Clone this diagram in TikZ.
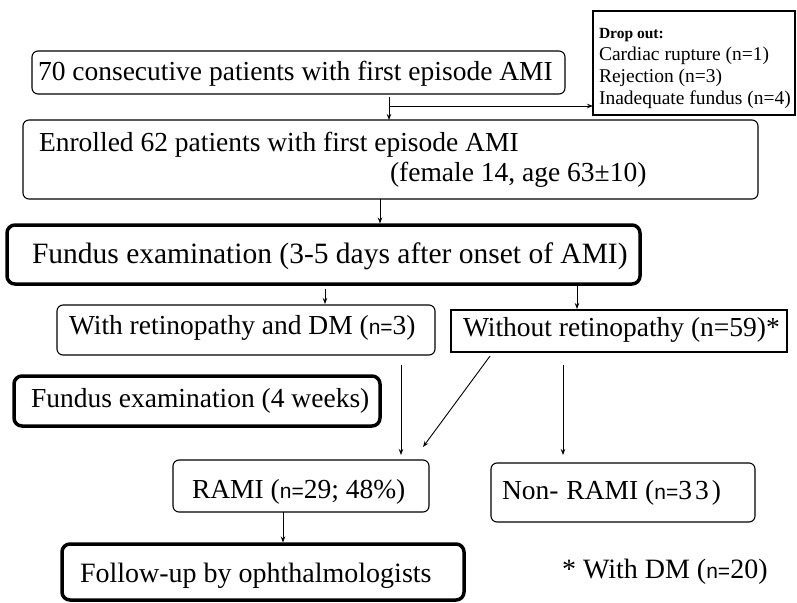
\documentclass[tikz,border=0pt]{standalone}
\usepackage{fontspec}
\setmainfont{Liberation Serif}
\setsansfont{Liberation Sans}
\usetikzlibrary{arrows.meta}
\newcommand{\nsm}{{\sffamily\fontsize{21}{21}\selectfont n=}}
\begin{document}
\begin{tikzpicture}[x=1pt,y=-1pt,
  thinbox/.style={draw, line width=1.1pt, rounded corners=6pt, inner sep=0pt, outer sep=0pt, anchor=north west},
  thickbox/.style={thinbox, line width=3.5pt, rounded corners=8pt},
  sqbox/.style={thinbox, rounded corners=0pt},
  txt/.style={anchor=base west, inner sep=0pt, outer sep=0pt, font=\fontsize{27.5}{33}\selectfont},
  droptxt/.style={txt, font=\fontsize{19.5}{22}\selectfont},
  arr/.style={draw, line width=0.9pt, -{Stealth[length=6pt,width=4.5pt]}}
]
\useasboundingbox (0,0) rectangle (797,602);

% boxes
\node[thinbox, minimum width=533pt, minimum height=43pt] (box1) at (32,51) {};
\node[sqbox, minimum width=202pt, minimum height=104pt] (drop) at (593,11) {};
\node[thinbox, minimum width=735pt, minimum height=79pt] (enr) at (23,120) {};
\node[thickbox, minimum width=633pt, minimum height=59pt] (fund1) at (7,225) {};
\node[thinbox, minimum width=378pt, minimum height=50pt] (with) at (57,305) {};
\node[sqbox, minimum width=336pt, minimum height=42pt] (without) at (451,310) {};
\node[thickbox, minimum width=366pt, minimum height=50pt] (fund2) at (14,376) {};
\node[thinbox, minimum width=256pt, minimum height=52pt] (rami) at (173,460) {};
\node[thinbox, minimum width=264pt, minimum height=59pt] (nonrami) at (491,463) {};
\node[thickbox, minimum width=402pt, minimum height=56pt] (follow) at (62,544) {};

% texts
\node[txt] (t1) at (38,80) {70 consecutive patients with first episode AMI};
\node[txt, font=\fontsize{15.5}{18}\selectfont\bfseries] (d0) at (599,39) {Drop out:};
\node[droptxt] (d1) at (599,60) {Cardiac rupture (n=1)};
\node[droptxt] (d2) at (599,82) {Rejection (n=3)};
\node[droptxt] (d3) at (599,104) {Inadequate fundus (n=4)};
\node[txt] (e1) at (39,151) {Enrolled 62 patients with first episode AMI};
\node[txt] (e2) at (390,181) {(female 14, age 63±10)};
\node[txt, font=\fontsize{29.5}{34}\selectfont] (f1) at (32,263) {Fundus examination (3-5 days after onset of AMI)};
\node[txt] (w1) at (69,334) {With retinopathy and DM (\nsm3)};
\node[txt] (wo) at (463,336) {Without retinopathy (n=59)*};
\node[txt] (f2) at (31,407) {Fundus examination (4 weeks)};
\node[txt] (r1) at (192,498) {RAMI (\nsm29; 48\%)};
\node[txt] (n1) at (502,499) {Non-\hspace{8pt}RAMI (\nsm3\hspace{3pt}3\hspace{3pt})};
\node[txt, font=\fontsize{28}{34}\selectfont] (fo) at (80,582) {Follow-up by ophthalmologists};
\node[txt, font=\fontsize{28}{34}\selectfont] (fn) at (562,578) {* With DM (\nsm20)};

% connector positions
\coordinate (xa) at (389,0);
\coordinate (xb) at (380,0);
\coordinate (xc) at (325,0);
\coordinate (xd) at (577,0);
\coordinate (xe) at (401,0);
\coordinate (xs) at (493,0);
\coordinate (xf) at (563,0);
\coordinate (xg) at (283,0);
\coordinate (jd) at (389,106);
\coordinate (dgEnd) at (423,447);

% connectors
\draw[arr, shorten <=3pt] (box1.south -| xa) -- (enr.north -| xa);
\draw[arr] (jd) -- (jd -| drop.west);
\draw[arr, shorten >=1.5pt] (enr.south -| xb) -- (fund1.north -| xb);
\draw[arr, shorten <=5pt, shorten >=1pt] (fund1.south -| xc) -- (with.north -| xc);
\draw[arr, shorten <=1pt, shorten >=1pt] (fund1.south -| xd) -- (without.north -| xd);
\draw[arr, shorten <=10pt, shorten >=5pt] (with.south -| xe) -- (rami.north -| xe);
\draw[arr, shorten <=5pt] (without.south -| xs) -- (dgEnd);
\draw[arr, shorten <=13pt, shorten >=8pt] (without.south -| xf) -- (nonrami.north -| xf);
\draw[arr, shorten >=1.5pt] (rami.south -| xg) -- (follow.north -| xg);
\end{tikzpicture}
\end{document}
